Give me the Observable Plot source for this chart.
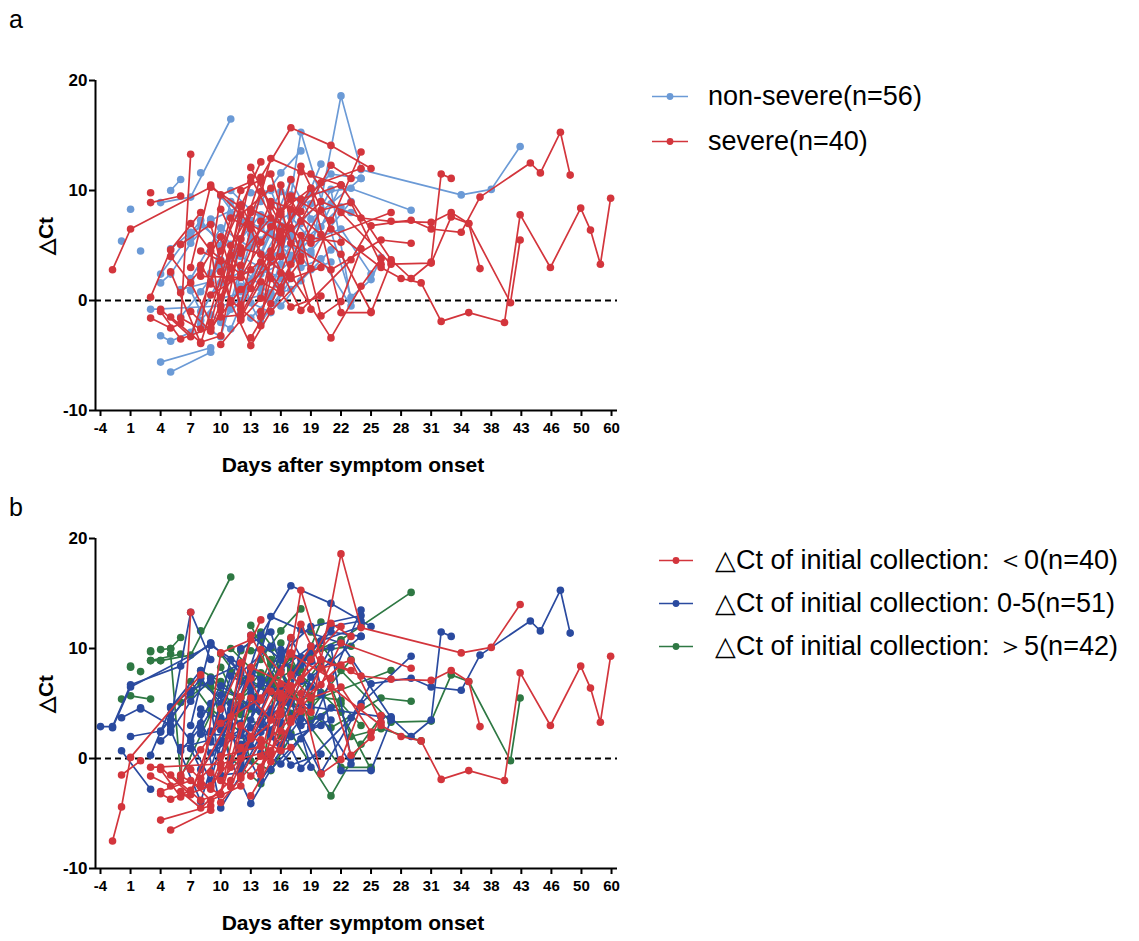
<!DOCTYPE html>
<html><head><meta charset="utf-8">
<script src="https://cdn.jsdelivr.net/npm/d3@7"></script>
<script src="https://cdn.jsdelivr.net/npm/@observablehq/plot@0.6"></script>
<style>
body{margin:0;background:#fff;font-family:Arial,"Liberation Sans",sans-serif;color:#000;}
#root{position:relative;width:1139px;height:941px;overflow:hidden;background:#fff;}
.abs{position:absolute;white-space:nowrap;line-height:1;}
.plabel{font-size:25px;}
.ylab{font-weight:bold;font-size:21px;transform:translate(-50%,-50%) rotate(-90deg);}
.xlab{font-weight:bold;font-size:21px;transform:translateX(-50%);}
.leg{display:flex;align-items:center;transform:translateY(-50%);}
.lega{font-size:27px;}
.legb{font-size:27px;}
</style></head><body><div id="root"></div>
<script>
// ---- axis ticks ----
const tickDays = [-4,1,4,7,10,13,16,19,22,25,28,31,34,38,43,46,50,60];
const yTicks = [-10,0,10,20];

// ---- panel a: non-severe patients (day, ΔCt) ----
const nonSevere = [
 [[-0.5,5.4]],
 [[1,8.3]],
 [[2,4.5]],
 [[4,8.9],[7,9.4],[11,16.5]],
 [[5,10.0],[6,11.0]],
 [[8,11.6]],
 [[4,-5.6],[9,-4.3]],
 [[5,-6.5],[9,-4.7]],
 [[4,-3.2],[5,-3.7],[7,-2.9],[11,3.8],[13,7.3]],
 [[3,-0.8],[10,-0.5],[15,0.7],[18,4.3]],
 [[4,2.4],[8,7.3],[10,5.0]],
 [[4,1.6],[5,2.4],[7,5.2],[9,7.3],[12,8.6]],
 [[5,4.7],[7,6.2],[9,7.0]],
 [[7,5.8],[8,6.9],[12,4.0],[16,2.0]],
 [[6,-1.5],[8,0.8],[10,3.2],[14,5.5],[17,9.6],[18,15.3],[23,0.3],[25,1.9],[26,3.9]],
 [[9,-1.3],[11,-2.6],[13,1.8],[16,6.8],[19,4.2],[22,18.6],[24,11.9],[34,9.6],[38,10.1],[42.8,14.0]],
 [[8,-1.8],[10,0.2],[14,1.1],[17,3.6],[20,6.7],[22,10.5],[29,8.2]],
 [[10,-2.0],[12,0.0],[15,6.1],[18,5.2],[22,8.5]],
 [[11,10.0],[13,8.2],[15,6.9],[17,7.9],[19,9.7],[23,10.2]],
 [[12,1.3],[14,-2.0],[16,0.7],[19,7.4],[21,8.8],[24,11.1]],
 [[9,2.5],[12,4.7],[14,4.3],[17,10.9],[20,5.8]],
 [[13,-1.6],[15,0.3],[17,7.6],[19,5.5],[22,6.5],[25,2.4]],
 [[7,2.0],[10,6.6],[13,4.8],[16,9.9],[19,8.8]],
 [[14,3.1],[16,1.2],[18,4.9],[21,10.1],[23,0.0]],
 [[10,9.5],[12,7.0],[14,9.0],[16,11.6],[18,13.6]],
 [[15,4.0],[17,5.2],[19,2.8],[21,3.5]],
 [[11,-0.8],[13,5.5],[15,3.5],[17,6.2],[20,9.0],[23,8.0]],
 [[8,-2.2],[10,-3.3],[12,3.0],[15,0.5],[17,1.0]],
 [[6,1.0],[9,1.7],[11,9.0],[13,6.0]],
 [[16,4.5],[18,9.0],[21,11.5],[24,11.1]],
 [[12,5.6],[14,7.8],[16,5.0],[19,4.5],[23,9.0]],
 [[9,7.4],[11,5.1],[13,-0.2],[15,-1.1],[17,2.0]],
 [[18,3.0],[20,3.8],[23,-0.5]],
 [[13,9.8],[15,10.0],[17,5.7],[20,12.4]],
 [[10,3.7],[12,0.8],[14,2.4],[16,3.3],[18,7.0]],
 [[7,0.9],[8,-1.0],[10,1.6],[12,2.6]],
 [[11,7.9],[14,6.6],[17,4.1]],
 [[14,0.5],[16,-0.5],[18,1.8],[21,4.6]]
];

// ---- panel a: severe patients (day, ΔCt) ----
const severe = [
 [[-2,2.8],[1,6.5],[9,10.3],[12,8.5]],
 [[3,9.8]],
 [[3,8.9],[6,9.5]],
 [[3,-1.6],[5,-2.5],[6,-2.1],[7,13.3]],
 [[3,0.3],[5,4.6],[8,8.0]],
 [[4,-0.8],[7,-3.3],[10,4.5],[14,12.6]],
 [[5,2.6],[8,-3.9],[11,5.0],[13,8.0]],
 [[5,4.0],[7,1.6],[9,-2.0],[12,7.8],[15,10.2]],
 [[6,-1.6],[8,-2.6],[10,9.6],[13,10.8]],
 [[7,3.0],[9,10.5],[13,6.9],[16,5.3]],
 [[8,3.2],[10,0.3],[14,11.2],[17,15.7],[21,14.1],[25,12.0]],
 [[9,5.0],[10,-1.5],[12,-1.3],[15,3.9],[18,9.2],[22,10.5]],
 [[10,2.6],[11,-0.2],[13,-4.1],[15,-1.0],[19,2.9],[24,13.5]],
 [[10,8.3],[12,4.3],[15,7.5],[19,5.2],[27,8.0]],
 [[11,4.1],[13,1.1],[16,6.3],[20,10.7],[24,12.0]],
 [[12,-1.6],[14,1.7],[16,0.7],[18,5.9],[20,-1.4],[22,-0.1],[24,4.7]],
 [[13,12.1],[15,8.6],[17,5.2],[21,2.8],[26,5.5],[29,5.2]],
 [[8,2.2],[12,2.1],[16,8.1],[19,10.2],[22,-1.1],[25,-1.1],[27,3.5]],
 [[14,10.8],[17,2.3],[21,-3.4],[24,1.3],[26,3.8]],
 [[9,0.5],[13,2.8],[15,4.5],[18,-0.9],[23,3.7],[25,6.8],[29,7.3],[31,6.5],[34,6.2],[36.5,9.4],[43.9,12.5],[44.9,11.6],[47.2,15.3],[48.5,11.4]],
 [[12,3.2],[15,12.9],[18,11.7],[22,10.5],[27,3.7],[29,2.0],[31,3.5],[32,11.5],[33,11.1]],
 [[14,-1.5],[16,5.5],[20,9.0],[24,7.5],[27,7.2],[31,7.1],[33,8.0],[35,7.0],[36.5,2.9]],
 [[9,-2.5],[12,1.0],[16,4.0],[18,12.2],[21,6.5],[26,3.0],[28,2.0],[30,1.6],[32,-1.9],[35,-1.1],[40.2,-2.0],[42.8,7.8],[45.9,3.0],[49.9,8.4],[53,6.4],[56.3,3.3],[59.7,9.3]],
 [[17,8.3],[20,6.0],[22,4.2],[25,-1.0]],
 [[19,11.5],[22,8.0],[27,3.3],[31,3.4],[33,7.6],[35,7.0],[41.2,-0.2],[42.8,5.5]],
 [[6,5.1],[9,6.9],[11,0.0],[14,-2.3],[16,10.5],[18,4.0]],
 [[7,-1.0],[9,-2.8],[10,-0.9],[13,11.2],[16,5.9],[19,10.2]],
 [[5,-1.5],[8,-3.8],[10,-3.2],[12,5.6],[14,9.9],[16,7.8]],
 [[8,4.5],[10,3.6],[12,10.0],[15,11.5],[19,-0.8]],
 [[4,-1.0],[6,-3.5],[9,-2.5],[11,2.0],[13,8.3],[17,6.6]],
 [[9,1.5],[11,7.5],[13,6.5],[15,2.0],[17,-0.6],[20,0.4]],
 [[10,-0.5],[12,8.7],[14,5.3],[17,9.5],[21,7.3]],
 [[11,3.0],[12,-0.8],[14,3.5],[16,1.2],[18,3.6]],
 [[6,0.7],[8,2.8],[10,5.8],[12,-0.4],[14,7.2]],
 [[13,-3.4],[15,-0.3],[17,3.3],[20,8.2],[23,8.9],[26,3.3]],
 [[10,-4.0],[12,-1.8],[14,0.2],[17,11.0]],
 [[7,7.0],[9,4.5],[12,2.4],[15,9.0],[18,8.1]],
 [[14,-1.0],[16,2.5],[18,7.2],[21,12.3],[23,11.1]],
 [[12,4.8],[14,4.2],[17,2.0],[20,3.0]],
 [[15,6.7],[17,9.2],[19,5.7],[22,5.3]]
];

// ---- panel b: additional collections (day, ΔCt) ----
const extraB = [
 [[-2,-7.5],[-0.5,-4.4],[1,0.1],[8,7.6]],
 [[-0.5,-1.5],[2,-0.2]],
 [[-4,2.9],[-2,2.9],[1,6.7],[6,8.4],[9,10.5]],
 [[-0.5,3.7],[2,4.6],[5,3.0]],
 [[-0.5,0.7],[3,-2.8]],
 [[1,2.0],[4,2.5],[7,6.0]],
 [[1,8.4]],
 [[2,7.9]],
 [[3,9.7]],
 [[4,9.9],[5,10.0]],
 [[3,8.9],[4,8.9]],
 [[1,5.7],[3,5.4]],
 [[5,3.5],[7,13.3],[9,9.0]],
 [[5,9.5],[6,-1.7],[9,4.0]],
 [[12,9.8],[14,11.5],[17,8.0],[20,10.0],[22,10.8],[29,15.1]],
 [[13,3.5],[16,9.5],[19,12.0],[24,13.0]],
 [[15,2.5],[18,8.5],[21,12.0],[24,12.5]],
 [[14,7.5],[17,5.0],[20,8.8],[23,2.0],[26,2.7],[30,1.6]],
 [[10,1.5],[13,7.8],[16,6.0],[20,-1.3],[24,5.0],[29,9.3]],
 [[12,0.5],[14,6.8],[19,4.7],[26,3.8],[27,3.8]],
 [[9,6.5],[12,5.5],[15,7.5],[18,4.0],[22,-0.8],[25,-0.8]],
 [[6,-3.0],[8,-4.5],[11,-2.0],[13,2.0]],
 [[4,-3.0],[7,-2.0],[9,-3.8],[12,-2.5]],
 [[8,4.0],[10,-4.5],[14,1.5]],
 [[8,8.0],[10,7.0],[13,4.5],[16,3.0]],
 [[11,4.5],[13,11.2],[16,9.0],[19,6.5]],
 [[16,8.0],[19,3.5],[22,5.0],[24,3.0]],
 [[14,-0.8],[16,4.3],[19,9.0],[22,12.0]]
];

// ---- layout helpers ----
const X0 = 95, X1 = 617, TICK0 = 100, STEP = 30.06;
const xDomain = [-4.83, ...tickDays, 60.6];
const xRange = [X0, ...tickDays.map((d, i) => TICK0 + STEP * i), X1];

function rowsOf(trajs, prefix) {
  return trajs.flatMap((t, i) => t.map(([day, ct]) => ({id: prefix + i, day, ct})));
}

function panel(layers) {
  return Plot.plot({
    width: 640, height: 480,
    marginLeft: X0, marginRight: 640 - X1, marginTop: 80, marginBottom: 70,
    style: {fontFamily: "Arial, 'Liberation Sans', sans-serif", color: "#000", background: "transparent", overflow: "visible"},
    x: {type: "linear", domain: xDomain, range: xRange},
    y: {domain: [-10, 20], range: [410, 80]},
    marks: [
      Plot.ruleY([0], {stroke: "#000", strokeWidth: 2, strokeDasharray: "6,4"}),
      ...layers.flatMap(L => [
        Plot.line(L.rows, {x: "day", y: "ct", z: "id", stroke: L.color, strokeWidth: 1.7}),
        Plot.dot(L.rows, {x: "day", y: "ct", fill: L.color, r: 3.8})
      ]),
      Plot.ruleY([-10], {stroke: "#000", strokeWidth: 2}),
      Plot.ruleX([-4.83], {stroke: "#000", strokeWidth: 2}),
      Plot.axisX({ticks: tickDays, tickFormat: d => String(d), tickSize: 6, strokeWidth: 2, fontWeight: "bold", fontSize: 15, tickPadding: 6, label: null}),
      Plot.axisY({ticks: yTicks, tickFormat: d => String(d), tickSize: 6, strokeWidth: 2, fontWeight: "bold", fontSize: 17, tickPadding: 2, label: null})
    ]
  });
}

const colors = {lightBlue: "#6b9ad6", red: "#d3353c", darkBlue: "#2a4a9f", green: "#2e7843"};

const root = document.getElementById("root");
function place(el, left, top) { el.style.position = "absolute"; el.style.left = left + "px"; el.style.top = top + "px"; root.appendChild(el); return el; }
function div(cls, text, left, top) { const d = document.createElement("div"); d.className = "abs " + cls; d.textContent = text; return place(d, left, top); }
function legendItem(cls, color, text, left, centerY, lineW, gap) {
  const d = document.createElement("div"); d.className = "abs leg " + cls;
  d.innerHTML = `<svg width="${lineW}" height="12" style="margin-right:${gap}px"><line x1="0" y1="6" x2="${lineW}" y2="6" stroke="${color}" stroke-width="1.7"/><circle cx="${lineW / 2}" cy="6" r="3.4" fill="${color}"/></svg><span>${text}</span>`;
  return place(d, left, centerY);
}

// Panel a
const pa = panel([
  {rows: rowsOf(nonSevere, "n"), color: colors.lightBlue},
  {rows: rowsOf(severe, "s"), color: colors.red}
]);
place(pa, 0, 0);

// Panel b: grouped by ΔCt of the initial collection
const allB = [...nonSevere, ...severe, ...extraB];
const grp = t => t[0][1] < 0 ? "low" : t[0][1] <= 5 ? "mid" : "high";
const pb = panel([
  {rows: rowsOf(allB.filter(t => grp(t) === "high"), "h"), color: colors.green},
  {rows: rowsOf(allB.filter(t => grp(t) === "mid"), "m"), color: colors.darkBlue},
  {rows: rowsOf(allB.filter(t => grp(t) === "low"), "l"), color: colors.red}
]);
place(pb, 0, 458);

// Texts
div("plabel", "a", 9, 7);
div("plabel", "b", 9, 495);
div("ylab", "△Ct", 45, 236);
div("ylab", "△Ct", 45, 694);
div("xlab", "Days after symptom onset", 353, 454);
div("xlab", "Days after symptom onset", 353, 912);

legendItem("lega", colors.lightBlue, "non-severe(n=56)", 652, 96, 36, 20);
legendItem("lega", colors.red, "severe(n=40)", 652, 141, 36, 20);
legendItem("legb", colors.red, "△Ct of initial collection: ＜0(n=40)", 659, 560, 34, 22);
legendItem("legb", colors.darkBlue, "△Ct of initial collection: 0-5(n=51)", 659, 603, 34, 22);
legendItem("legb", colors.green, "△Ct of initial collection: ＞5(n=42)", 659, 646, 34, 22);
</script></body></html>
